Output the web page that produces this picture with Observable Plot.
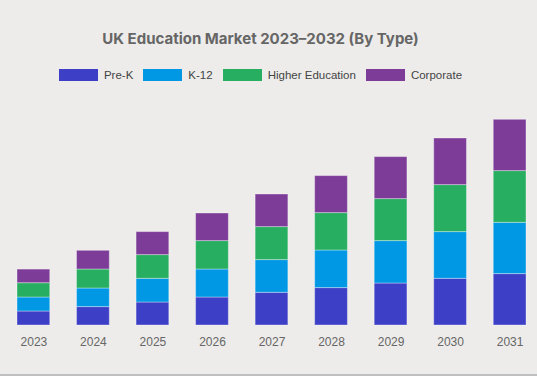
<!DOCTYPE html>
<html>
<head>
<meta charset="utf-8">
<script src="https://cdn.jsdelivr.net/npm/d3@7"></script>
<script src="https://cdn.jsdelivr.net/npm/@observablehq/plot@0.6"></script>
<style>
  html, body { margin: 0; padding: 0; background: #edecea; }
  #wrap { position: relative; width: 537px; height: 376px; box-sizing: border-box; border-bottom: 2px solid #bfbfbf; background: #edecea; overflow: hidden; }
  #title { position: absolute; left: 0; top: 28px; width: 521px; text-align: center; font-family: Inter, "Open Sans", sans-serif; font-weight: 700; font-size: 15px; color: #666666; line-height: 22px; }
  #legend { position: absolute; left: 0; top: 67px; width: 521px; display: flex; justify-content: center; align-items: center; font-family: "Liberation Sans", Arial, sans-serif; font-size: 11.5px; color: #444; line-height: 16px; }
  .item { display: flex; align-items: center; margin: 0 5px; }
  .sw { width: 39px; height: 12px; margin-right: 6px; }
  #chart { position: absolute; left: 0; top: 100px; }
</style>
</head>
<body>
<div id="wrap">
  <div id="title">UK Education Market 2023–2032 (By Type)</div>
  <div id="legend"></div>
  <div id="chart"></div>
</div>
<script>
const years = ["2023","2024","2025","2026","2027","2028","2029","2030","2031"];
const types = ["Pre-K","K-12","Higher Education","Corporate"];
const colors = ["#3d3fc6","#0098e5","#27ae60","#7d3c98"];
const preK      = [14, 18.4, 23, 28, 32.7, 37.4, 42, 46.7, 51.4];
const k12       = [14, 18.6, 23.7, 28, 32.7, 37.6, 42.4, 46.7, 51.3];
const higherEd  = [14.3, 19, 23.7, 28.4, 33, 37.4, 42, 47, 51.7];
const corporate = [13.6, 18.7, 23, 27.6, 32.6, 37, 42, 46.6, 51.3];

const seriesValues = [preK, k12, higherEd, corporate];
const data = [];
types.forEach((t, i) => years.forEach((y, j) => data.push({year: y, type: t, value: seriesValues[i][j]})));

const legend = document.getElementById("legend");
types.forEach((t, i) => {
  const it = document.createElement("div");
  it.className = "item";
  it.innerHTML = `<div class="sw" style="background:${colors[i]}"></div><span>${t}</span>`;
  legend.appendChild(it);
});

const chart = Plot.plot({
  width: 537,
  height: 274,
  marginLeft: 6,
  marginRight: 0,
  marginTop: 15,
  marginBottom: 49,
  style: {background: "transparent", fontFamily: "'Liberation Sans', Arial, sans-serif"},
  x: {domain: years, paddingInner: 0.45, paddingOuter: 0.185, round: false, label: null},
  y: {domain: [0, 210], axis: null},
  color: {domain: types, range: colors},
  marks: [
    Plot.barY(data, Plot.stackY({
      x: "year", y: "value", fill: "type", order: null,
      stroke: "#ffffff", strokeOpacity: 0.35, strokeWidth: 1
    })),
    Plot.axisX({tickSize: 0, tickPadding: 12, fontSize: 12, color: "#666666", label: null})
  ]
});
document.getElementById("chart").appendChild(chart);
</script>
</body>
</html>
